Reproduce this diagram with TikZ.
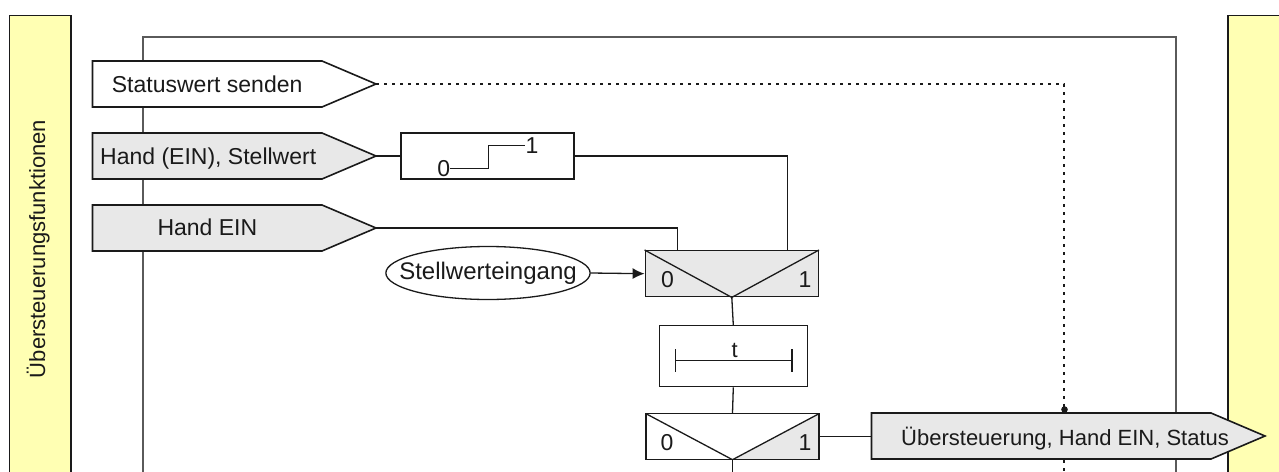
\documentclass[tikz,border=0pt]{standalone}
\usepackage{fontspec}
\setmainfont{Liberation Sans}
\usetikzlibrary{shapes.geometric,arrows.meta}
\definecolor{paleyellow}{HTML}{FFFFB3}
\definecolor{boxgray}{HTML}{E8E8E8}
\definecolor{framegray}{HTML}{5A5A5A}
\definecolor{ink}{HTML}{1A1A1A}

\begin{document}
\begin{tikzpicture}[x=1pt, y=-1pt,
    every node/.style={font=\fontsize{23}{27}\selectfont, text=ink},
    strip/.style={draw=ink, fill=paleyellow, line width=1.6pt},
    frame/.style={draw=framegray, line width=2pt},
    sig/.style={draw=ink, line width=1.6pt},
    blk/.style={draw=ink, line width=1.4pt, minimum width=173pt, minimum height=46pt, inner sep=0pt},
    conn/.style={draw=ink, line width=1.3pt},
    stat/.style={draw=ink, line width=1.6pt, dash pattern=on 3pt off 5pt},
    lbl/.style={anchor=base west, inner sep=0pt},
    digit/.style={font=\fontsize{23}{27}\selectfont, inner sep=0pt}]

                \useasboundingbox (0,0) rectangle (1279,471);
                % side strips and frame
                \draw [strip] (9.5,15.5) rectangle (71,490);
                \draw [strip] (1228,15.5) rectangle (1300,490);
                \node [rotate=90, anchor=base, inner sep=0pt, font=\fontsize{22}{26}\selectfont] (side) at (45,249) {Übersteuerungsfunktionen};
                \draw [frame] (143,490) -- (143,36.7) -- (1176,36.7) -- (1176,490);
                \coordinate (status end) at (1064,490);
                \coordinate (sel2 end) at (732.5,490);

                % input objects
                \draw [sig, fill=white] (92.5,61) -- ++(229.5,0) -- ++(54,23) coordinate (stat tip) -- ++(-54,23) -- ++(-229.5,0) -- cycle;
                \draw [sig, fill=boxgray] (92.5,133) -- ++(229.5,0) -- ++(54,23) coordinate (hsw tip) -- ++(-54,23) -- ++(-229.5,0) -- cycle;
                \draw [sig, fill=boxgray] (92.5,205) -- ++(229.5,0) -- ++(54,23) coordinate (hein tip) -- ++(-54,23) -- ++(-229.5,0) -- cycle;
                \node [lbl] (stat text) at (111.7,92.7) {Statuswert senden};
                \node [lbl] (hsw text) at (100,164) {Hand (EIN), Stellwert};
                \node [lbl] (hein text) at (157.3,235) {Hand EIN};

                \draw [stat] (stat tip) -| (status end);

                % step function
                \node [blk] (step) at (487.5,156) {};
                \node [digit] (zero) at (443.8,168.8) {0};
                \node [digit] (one) at (532,145.8) {1};
                \draw [conn, line width=1.1pt] (zero.east) -- ++(38.5,0) |- (one.west);

                % selector 1
                \node [blk, fill=boxgray] (sel1) at (731.8,273.7) {};
                \draw [conn] (sel1.north west) -- (sel1.south) -- (sel1.north east);
                \node [digit] (sel1 zero) at (667.5,280) {0};
                \node [digit] (sel1 one) at (805,280) {1};
                \coordinate (sel1 in0) at (677.7,250.7);
                \coordinate (sel1 in1) at (787.7,250.7);

                \node [draw=ink, line width=1.3pt, ellipse, inner xsep=-16.5pt, inner ysep=7.5pt, minimum width=203pt, minimum height=53pt, font=\fontsize{24}{28}\selectfont] (sw) at (488,273) {Stellwerteingang};

                % delay
                \node [blk, minimum width=148pt, minimum height=61pt] (timer) at (733.3,356.2) {};
                \node [digit, font=\fontsize{22}{26}\selectfont] (tlabel) at (734.7,350.5) {t};
                \draw [conn] (675.8,360.7) -- (791.9,360.7);
                \draw [conn] (675.8,349) -- (675.8,372.3);
                \draw [conn] (791.9,349) -- (791.9,372.3);

                % selector 2
                \node [blk, path picture={
                    \fill [boxgray] (path picture bounding box.south) -- (path picture bounding box.north east) -- (path picture bounding box.south east) -- cycle;
                    \draw [conn] (path picture bounding box.north west) -- (path picture bounding box.south) -- (path picture bounding box.north east);}]
                    (sel2) at (732.5,436.7) {};
                \node [digit] (sel2 zero) at (667,443) {0};
                \node [digit] (sel2 one) at (805,443) {1};

                % output object
                \draw [sig, fill=boxgray] (871.5,413) coordinate (out nw) -- (1211,413) -- (1265,436) coordinate (out tip) -- (1211,459) -- (871.5,459) -- cycle;
                \coordinate (out in) at (871.5,436.7);
                \node [lbl, font=\fontsize{22}{26}\selectfont] (out text) at (901,445) {Übersteuerung, Hand EIN, Status};
                \fill [ink] (1064.5,409.5) circle (3.3) coordinate (dot);

                % connections
                \draw [conn] (hsw tip) -- (step.west);
                \draw [conn] (step.east) -| (sel1 in1);
                \draw [conn] (hein tip) -| (sel1 in0);
                \draw [conn, -{Latex[length=12pt,width=11pt]}] (sw.east) -- (sel1.west);
                \draw [conn] (sel1.south) -- (timer.north);
                \draw [conn] (timer.south) -- (sel2.north);
                \draw [conn] (sel2.south) -- (sel2 end);
                \draw [conn] (sel2.east) -- (out in);
            \end{tikzpicture}
\end{document}
